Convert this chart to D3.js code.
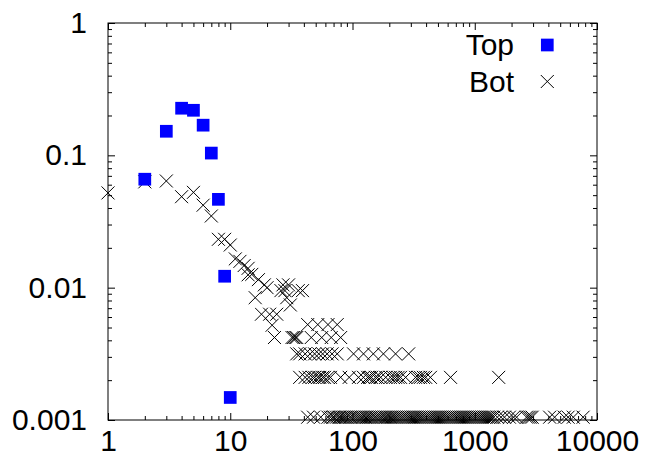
<!DOCTYPE html>
<html>
<head>
<meta charset="utf-8">
<script src="https://cdn.jsdelivr.net/npm/d3@7"></script>
<style>
  html, body { margin: 0; padding: 0; background: #fff; }
  svg { display: block; }
  text { font-family: "Liberation Sans", Arial, sans-serif; }
</style>
</head>
<body>
<svg id="chart" width="647" height="466"></svg>
<script>
// ---- Data ----
const topX = [2, 3, 4, 5, 6, 7, 8, 9, 10];
const topY = [0.066, 0.152, 0.227, 0.219, 0.169, 0.104, 0.0465, 0.0122, 0.00148];

// Bot series: head region (x, y pairs)
const botHeadX = [1, 2, 3, 4, 5, 6, 7, 8, 9, 10, 11, 12, 13, 14, 14, 15, 16, 17, 18, 19, 20, 21, 22, 24, 26, 27, 28, 29, 30, 31, 36, 39];
const botHeadY = [0.052, 0.063, 0.064, 0.0487, 0.0525, 0.042, 0.0348, 0.0232, 0.0232, 0.021, 0.0165, 0.0158, 0.0147, 0.0140, 0.0125, 0.0126, 0.0084, 0.0115, 0.0063, 0.0105, 0.0100, 0.0063, 0.0052, 0.0063, 0.0095, 0.0105, 0.0095, 0.0084, 0.0105, 0.0074, 0.0095, 0.0095];

// Bot series: tail, by discrete level
const levelY = [0.00105, 0.0021, 0.00316, 0.0042, 0.00526];
const bot5X = [43, 52, 63, 75];
const bot4X = [23, 32, 33, 34, 35, 46, 56, 67, 80];
const bot3X = [35, 37, 41, 45, 49, 53, 57, 62, 68, 75, 102, 123, 148, 179, 225, 288];
const bot2X = [37, 41, 44, 47, 49, 52, 54, 57, 59, 63, 66, 80, 94, 112, 123, 133, 138, 143, 154, 160, 170, 187, 204, 215, 225, 236, 247, 272, 328, 345, 360, 380, 397, 434, 634, 1570];
const bot1X = [43, 48, 55, 63, 66, 69, 71, 74, 77, 79, 82, 85, 88, 91, 95, 98, 102, 106, 110, 114, 118, 122, 127, 131, 136, 141, 146, 152, 157, 163, 169, 175, 182, 188, 195, 203, 210, 218, 226, 234, 243, 252, 261, 271, 281, 291, 302, 313, 324, 336, 349, 362, 375, 389, 403, 418, 433, 449, 466, 483, 501, 519, 538, 558, 579, 600, 622, 645, 669, 694, 719, 746, 773, 802, 831, 862, 894, 927, 961, 996, 1033, 1071, 1110, 1151, 1194, 1238, 1284, 1331, 1380, 1431, 1530, 1640, 1750, 1920, 2080, 2200, 2650, 2750, 2850, 2950, 4100, 4500, 5400, 5800, 6400, 7700];

const xTickValues = [1, 10, 100, 1000, 10000];
const xTickLabels = ["1", "10", "100", "1000", "10000"];
const yTickValues = [0.001, 0.01, 0.1, 1];
const yTickLabels = ["0.001", "0.01", "0.1", "1"];
const seriesNames = ["Top", "Bot"];

// ---- Layout ----
const L = 108, R = 597, T = 23, B = 420;
const svg = d3.select("#chart");

const x = d3.scaleLog().domain([1, 10000]).range([L, R]);
const y = d3.scaleLog().domain([0.001, 1]).range([B, T]);

// minor tick values
const xMinor = [];
for (let d = 1; d < 10000; d *= 10) for (let m = 2; m <= 9; m++) xMinor.push(d * m);
const yMinor = [];
for (let d = 0.001; d < 0.999; d *= 10) for (let m = 2; m <= 9; m++) yMinor.push(d * m);

const fontSize = 30;
function styleAxis(g) {
  g.select(".domain").remove();
  g.selectAll("line").attr("stroke", "#000").attr("stroke-width", 1);
  g.selectAll("text").attr("font-size", fontSize).attr("fill", "#000")
    .attr("font-family", '"Liberation Sans", Arial, sans-serif');
}

// bottom axis with labels
svg.append("g").attr("transform", `translate(0,${B})`)
  .call(d3.axisBottom(x).tickValues(xTickValues).tickSize(-7).tickPadding(10)
    .tickFormat((d, i) => xTickLabels[i]))
  .call(styleAxis);
svg.append("g").attr("transform", `translate(0,${B})`)
  .call(d3.axisBottom(x).tickValues(xMinor).tickSize(-4).tickFormat(""))
  .call(styleAxis);
// top mirrored
svg.append("g").attr("transform", `translate(0,${T})`)
  .call(d3.axisTop(x).tickValues(xTickValues).tickSize(-7).tickFormat(""))
  .call(styleAxis);
svg.append("g").attr("transform", `translate(0,${T})`)
  .call(d3.axisTop(x).tickValues(xMinor).tickSize(-4).tickFormat(""))
  .call(styleAxis);
// left axis with labels
svg.append("g").attr("transform", `translate(${L},0)`)
  .call(d3.axisLeft(y).tickValues(yTickValues).tickSize(-7).tickPadding(21)
    .tickFormat((d, i) => yTickLabels[i]))
  .call(styleAxis);
svg.append("g").attr("transform", `translate(${L},0)`)
  .call(d3.axisLeft(y).tickValues(yMinor).tickSize(-4).tickFormat(""))
  .call(styleAxis);
// right mirrored
svg.append("g").attr("transform", `translate(${R},0)`)
  .call(d3.axisRight(y).tickValues(yTickValues).tickSize(-7).tickFormat(""))
  .call(styleAxis);
svg.append("g").attr("transform", `translate(${R},0)`)
  .call(d3.axisRight(y).tickValues(yMinor).tickSize(-4).tickFormat(""))
  .call(styleAxis);

// frame
svg.append("rect").attr("x", L).attr("y", T).attr("width", R - L).attr("height", B - T)
  .attr("fill", "none").attr("stroke", "#000").attr("stroke-width", 1);

// ---- Marks ----
const crossHalf = 6.5;
function crossPath(cx, cy) {
  const h = crossHalf;
  return `M${cx - h},${cy - h}L${cx + h},${cy + h}M${cx - h},${cy + h}L${cx + h},${cy - h}`;
}

const botData = [];
botHeadX.forEach((v, i) => botData.push([v, botHeadY[i]]));
[bot1X, bot2X, bot3X, bot4X, bot5X].forEach((arr, li) => arr.forEach(v => botData.push([v, levelY[li]])));

svg.append("g").selectAll("path").data(botData).join("path")
  .attr("d", d => crossPath(x(d[0]), y(d[1])))
  .attr("stroke", "#000").attr("stroke-width", 1).attr("fill", "none");

const sq = 12.7;
const topData = topX.map((v, i) => [v, topY[i]]);
svg.append("g").selectAll("rect").data(topData).join("rect")
  .attr("x", d => x(d[0]) - sq / 2).attr("y", d => y(d[1]) - sq / 2)
  .attr("width", sq).attr("height", sq).attr("fill", "#0000ff");

// ---- Legend ----
const leg = svg.append("g");
leg.append("text").attr("x", 514).attr("y", 55).attr("text-anchor", "end")
  .attr("font-size", fontSize).text(seriesNames[0]);
leg.append("rect").attr("x", 547.3 - sq / 2).attr("y", 45 - sq / 2).attr("width", sq).attr("height", sq)
  .attr("fill", "#0000ff");
leg.append("text").attr("x", 514).attr("y", 91.5).attr("text-anchor", "end")
  .attr("font-size", fontSize).text(seriesNames[1]);
leg.append("path").attr("d", crossPath(547.3, 81.5)).attr("stroke", "#000").attr("fill", "none");
</script>
</body>
</html>
